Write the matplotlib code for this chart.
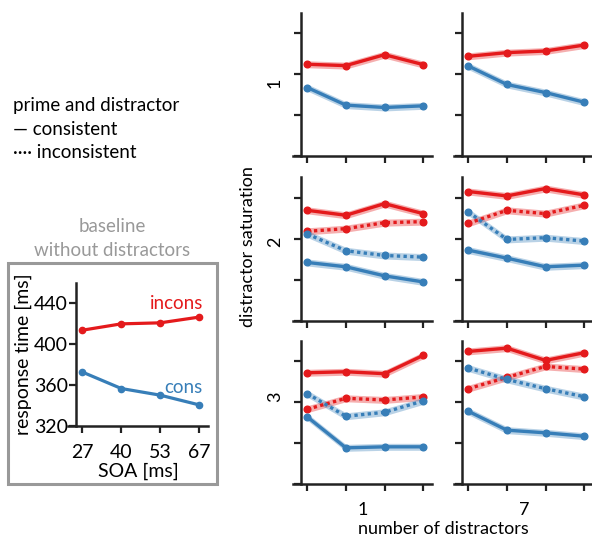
import numpy as np
import matplotlib.pyplot as plt
from matplotlib.patches import Rectangle

plt.rcParams['font.family'] = ['Lato', 'DejaVu Sans']

RED = "#e41a1c"
BLUE = "#377eb8"
GRAY = "#999999"

# ---------------------------------
# data
# ---------------------------------
soa_labels = ["27", "40", "53", "67"]
base_incons = [413.8, 420.0, 421.0, 426.6]
base_cons = [372.8, 356.7, 350.2, 340.7]

distractor_labels = ["1", "7"]
saturation_labels = ["1", "2", "3"]

# rows: saturation 1..3, cols: 1 and 7 distractors
incons_consistent = [
    [[409.8, 408.5, 419.2, 409.5], [417.6, 421.2, 422.8, 428.6]],
    [[427.6, 422.8, 434.1, 424.4], [445.9, 441.6, 448.8, 442.6]],
    [[428.9, 429.9, 428.0, 445.9], [449.8, 453.0, 441.0, 448.5]],
]
incons_inconsistent = [
    None,
    [[407.2, 409.8, 415.6, 416.6], [415.0, 427.6, 424.4, 432.5]],
    [[393.2, 403.9, 402.3, 405.2], [413.3, 424.4, 435.1, 432.5]],
]
cons_consistent = [
    [[387.0, 369.8, 367.5, 369.1], [408.1, 390.0, 382.1, 372.7]],
    [[376.9, 372.7, 363.9, 358.0], [388.9, 381.1, 372.7, 374.3]],
    [[385.7, 355.4, 356.4, 356.4], [391.2, 372.7, 370.1, 366.8]],
]
cons_inconsistent = [
    None,
    [[404.6, 388.3, 383.7, 382.1], [426.0, 399.3, 401.0, 397.7]],
    [[408.5, 386.3, 390.2, 401.3], [433.5, 422.4, 413.3, 405.5]],
]
band = 3.4  # half width of the shaded interval

W, H = 592, 539


def px_axes(fig, x0, y0, x1, y1):
    # axes from pixel box (top-left origin)
    return fig.add_axes([x0 / W, 1 - y1 / H, (x1 - x0) / W, (y1 - y0) / H])


def style_axes(ax, spine_off):
    ax.spines['top'].set_visible(False)
    ax.spines['right'].set_visible(False)
    for s in ['left', 'bottom']:
        ax.spines[s].set_linewidth(1.8)
        ax.spines[s].set_color("#222222")
    ax.spines['left'].set_position(('axes', spine_off))
    ax.tick_params(width=1.6, length=5, color="#222222")
    ax.set_xlim(-0.37, 3.23)
    ax.set_ylim(320, 460)
    ax.set_yticks([320, 360, 400, 440])
    ax.set_xticks(range(4))


def draw_series(ax, y, color, dotted):
    x = np.arange(len(y))
    y = np.array(y)
    ax.fill_between(x, y - band, y + band, color=color, alpha=0.35, lw=0)
    ls = (0, (1.0, 1.0)) if dotted else "-"
    ax.plot(x, y, color=color, lw=2.4, ls=ls, solid_capstyle="round")
    ax.plot(x, y, "o", color=color, ms=4.8)


fig = plt.figure(figsize=(5.92, 5.39), dpi=100)

# ---------------------------------
# small multiples
# ---------------------------------
col_x = [(293, 432), (454, 593)]
row_y = [(13, 156), (177, 321), (341, 484)]

for r in range(3):
    for c in range(2):
        ax = px_axes(fig, col_x[c][0], row_y[r][0], col_x[c][1], row_y[r][1])
        style_axes(ax, 8 / 139)
        ax.set_xticklabels([])
        ax.set_yticklabels([])
        if incons_inconsistent[r] is not None:
            draw_series(ax, incons_inconsistent[r][c], RED, True)
            draw_series(ax, cons_inconsistent[r][c], BLUE, True)
        draw_series(ax, incons_consistent[r][c], RED, False)
        draw_series(ax, cons_consistent[r][c], BLUE, False)

row_label_y = [83, 242, 397]
for lab, y in zip(saturation_labels, row_label_y):
    fig.text(275 / W, 1 - y / H, lab, rotation=90, fontsize=13,
             ha="center", va="center")
fig.text(248 / W, 1 - 247 / H, "distractor saturation", rotation=90,
         fontsize=13, ha="center", va="center")

for lab, x in zip(distractor_labels, [363, 524]):
    fig.text(x / W, 1 - 510 / H, lab, fontsize=13, ha="center", va="center")
fig.text(443 / W, 1 - 529 / H, "number of distractors", fontsize=13,
         ha="center", va="center")

# ---------------------------------
# legend text
# ---------------------------------
fig.text(13 / W, 1 - 105 / H, "prime and distractor", fontsize=13.5, va="center")
fig.text(13 / W, 1 - 129 / H, "\u2014 consistent", fontsize=13.5, va="center")
fig.text(13 / W, 1 - 152 / H, "\u00b7\u00b7\u00b7\u00b7 inconsistent", fontsize=13.5,
         va="center")

# ---------------------------------
# baseline panel
# ---------------------------------
fig.text(112 / W, 1 - 226 / H, "baseline", fontsize=13.5, color=GRAY,
         ha="center", va="center")
fig.text(112 / W, 1 - 250 / H, "without distractors", fontsize=13.5, color=GRAY,
         ha="center", va="center")
fig.patches.append(Rectangle((8 / W, 1 - 484 / H), 209 / W, 221 / H,
                             transform=fig.transFigure, fill=False,
                             edgecolor=GRAY, lw=2.2))

bx = px_axes(fig, 68, 283, 208, 426)
style_axes(bx, 8 / 140)
xb = np.arange(len(soa_labels))
bx.plot(xb, base_incons, "-o", color=RED, lw=2.3, ms=4.5)
bx.plot(xb, base_cons, "-o", color=BLUE, lw=2.3, ms=4.5)
bx.set_xticklabels(soa_labels, fontsize=14)
bx.set_yticklabels(["320", "360", "400", "440"], fontsize=14)
bx.tick_params(axis="x", pad=8)
bx.tick_params(axis="y", pad=1)
bx.set_xlabel("SOA [ms]", fontsize=14, labelpad=1)
bx.set_ylabel("response time [ms]", fontsize=14, labelpad=1)
bx.text(3.1, 440, "incons", color=RED, fontsize=13.5, ha="right", va="center")
bx.text(3.1, 358, "cons", color=BLUE, fontsize=13.5, ha="right", va="center")

fig.savefig("out.png", dpi=100)
